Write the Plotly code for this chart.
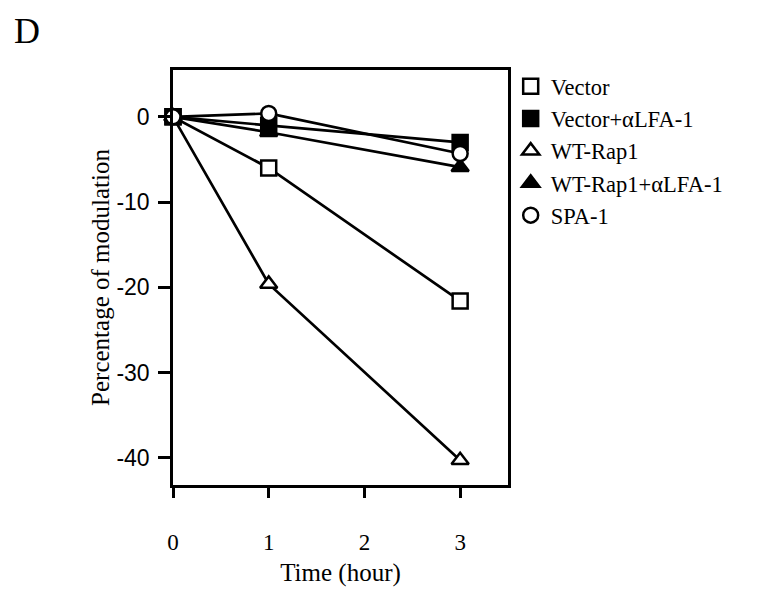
import plotly.graph_objects as go

# Data
time_hours = [0, 1, 3]
series_names = ["Vector", "Vector+αLFA-1", "WT-Rap1", "WT-Rap1+αLFA-1", "SPA-1"]
vector = [0, -6.0, -21.6]
vector_lfa = [0, -1.0, -3.0]
wt_rap1 = [0, -19.6, -40.3]
wt_rap1_lfa = [0, -1.8, -5.9]
spa1 = [0, 0.4, -4.3]
x_ticks = [0, 1, 2, 3]
y_ticks = [0, -10, -20, -30, -40]

values = [vector, vector_lfa, wt_rap1, wt_rap1_lfa, spa1]
symbols = ["square", "square", "triangle-up", "triangle-up", "circle"]
fills = ["white", "black", "white", "black", "white"]

serif = "Liberation Serif"
sans = "Liberation Sans"

fig = go.Figure()
for name, vals in zip(series_names, values):
    fig.add_trace(go.Scatter(
        x=time_hours, y=vals, mode="lines",
        line=dict(color="black", width=2.7),
        showlegend=False, hoverinfo="skip", cliponaxis=False,
    ))
for name, vals, sym, fill in zip(series_names, values, symbols, fills):
    fig.add_trace(go.Scatter(
        x=time_hours, y=vals, mode="markers", name=name,
        marker=dict(symbol=sym, size=15, color=fill,
                    line=dict(color="black", width=2.5)),
        cliponaxis=False,
    ))

fig.update_layout(
    width=770, height=589,
    margin=dict(l=165, r=270, t=62, b=112, autoexpand=False),
    paper_bgcolor="white", plot_bgcolor="white",
    font=dict(family=serif, color="black", size=22),
    legend=dict(x=1.008, y=1.012, xanchor="left", yanchor="top",
                font=dict(family=serif, size=22.5, color="black"),
                tracegroupgap=0, itemwidth=30, bgcolor="rgba(0,0,0,0)"),
)
fig.add_annotation(text="D", xref="paper", yref="paper",
                   x=-0.48, y=1.148, xanchor="left", yanchor="top",
                   showarrow=False, font=dict(family=serif, size=36, color="black"))

fig.update_xaxes(
    range=[0, 3.5], tickvals=x_ticks, ticktext=[str(v) for v in x_ticks],
    showline=True, linecolor="black", linewidth=2.5, mirror=True,
    ticks="outside", ticklen=10, tickwidth=2.5, tickcolor="black",
    ticklabelstandoff=25, automargin=False,
    showgrid=False, zeroline=False,
    tickfont=dict(family=serif, size=23, color="black"),
    title=dict(text="Time (hour)", font=dict(family=serif, size=25, color="black"), standoff=10),
)
fig.update_yaxes(
    range=[-43.2, 5.5], tickvals=y_ticks, ticktext=[str(v) for v in y_ticks],
    showline=True, linecolor="black", linewidth=2.5, mirror=True,
    ticks="outside", ticklen=12, tickwidth=2.5, tickcolor="black",
    ticklabelstandoff=4, automargin=False,
    showgrid=False, zeroline=False,
    tickfont=dict(family=sans, size=23, color="black"),
    title=dict(text="Percentage of modulation", font=dict(family=serif, size=25, color="black"), standoff=0),
)

fig.write_html("out.html")
